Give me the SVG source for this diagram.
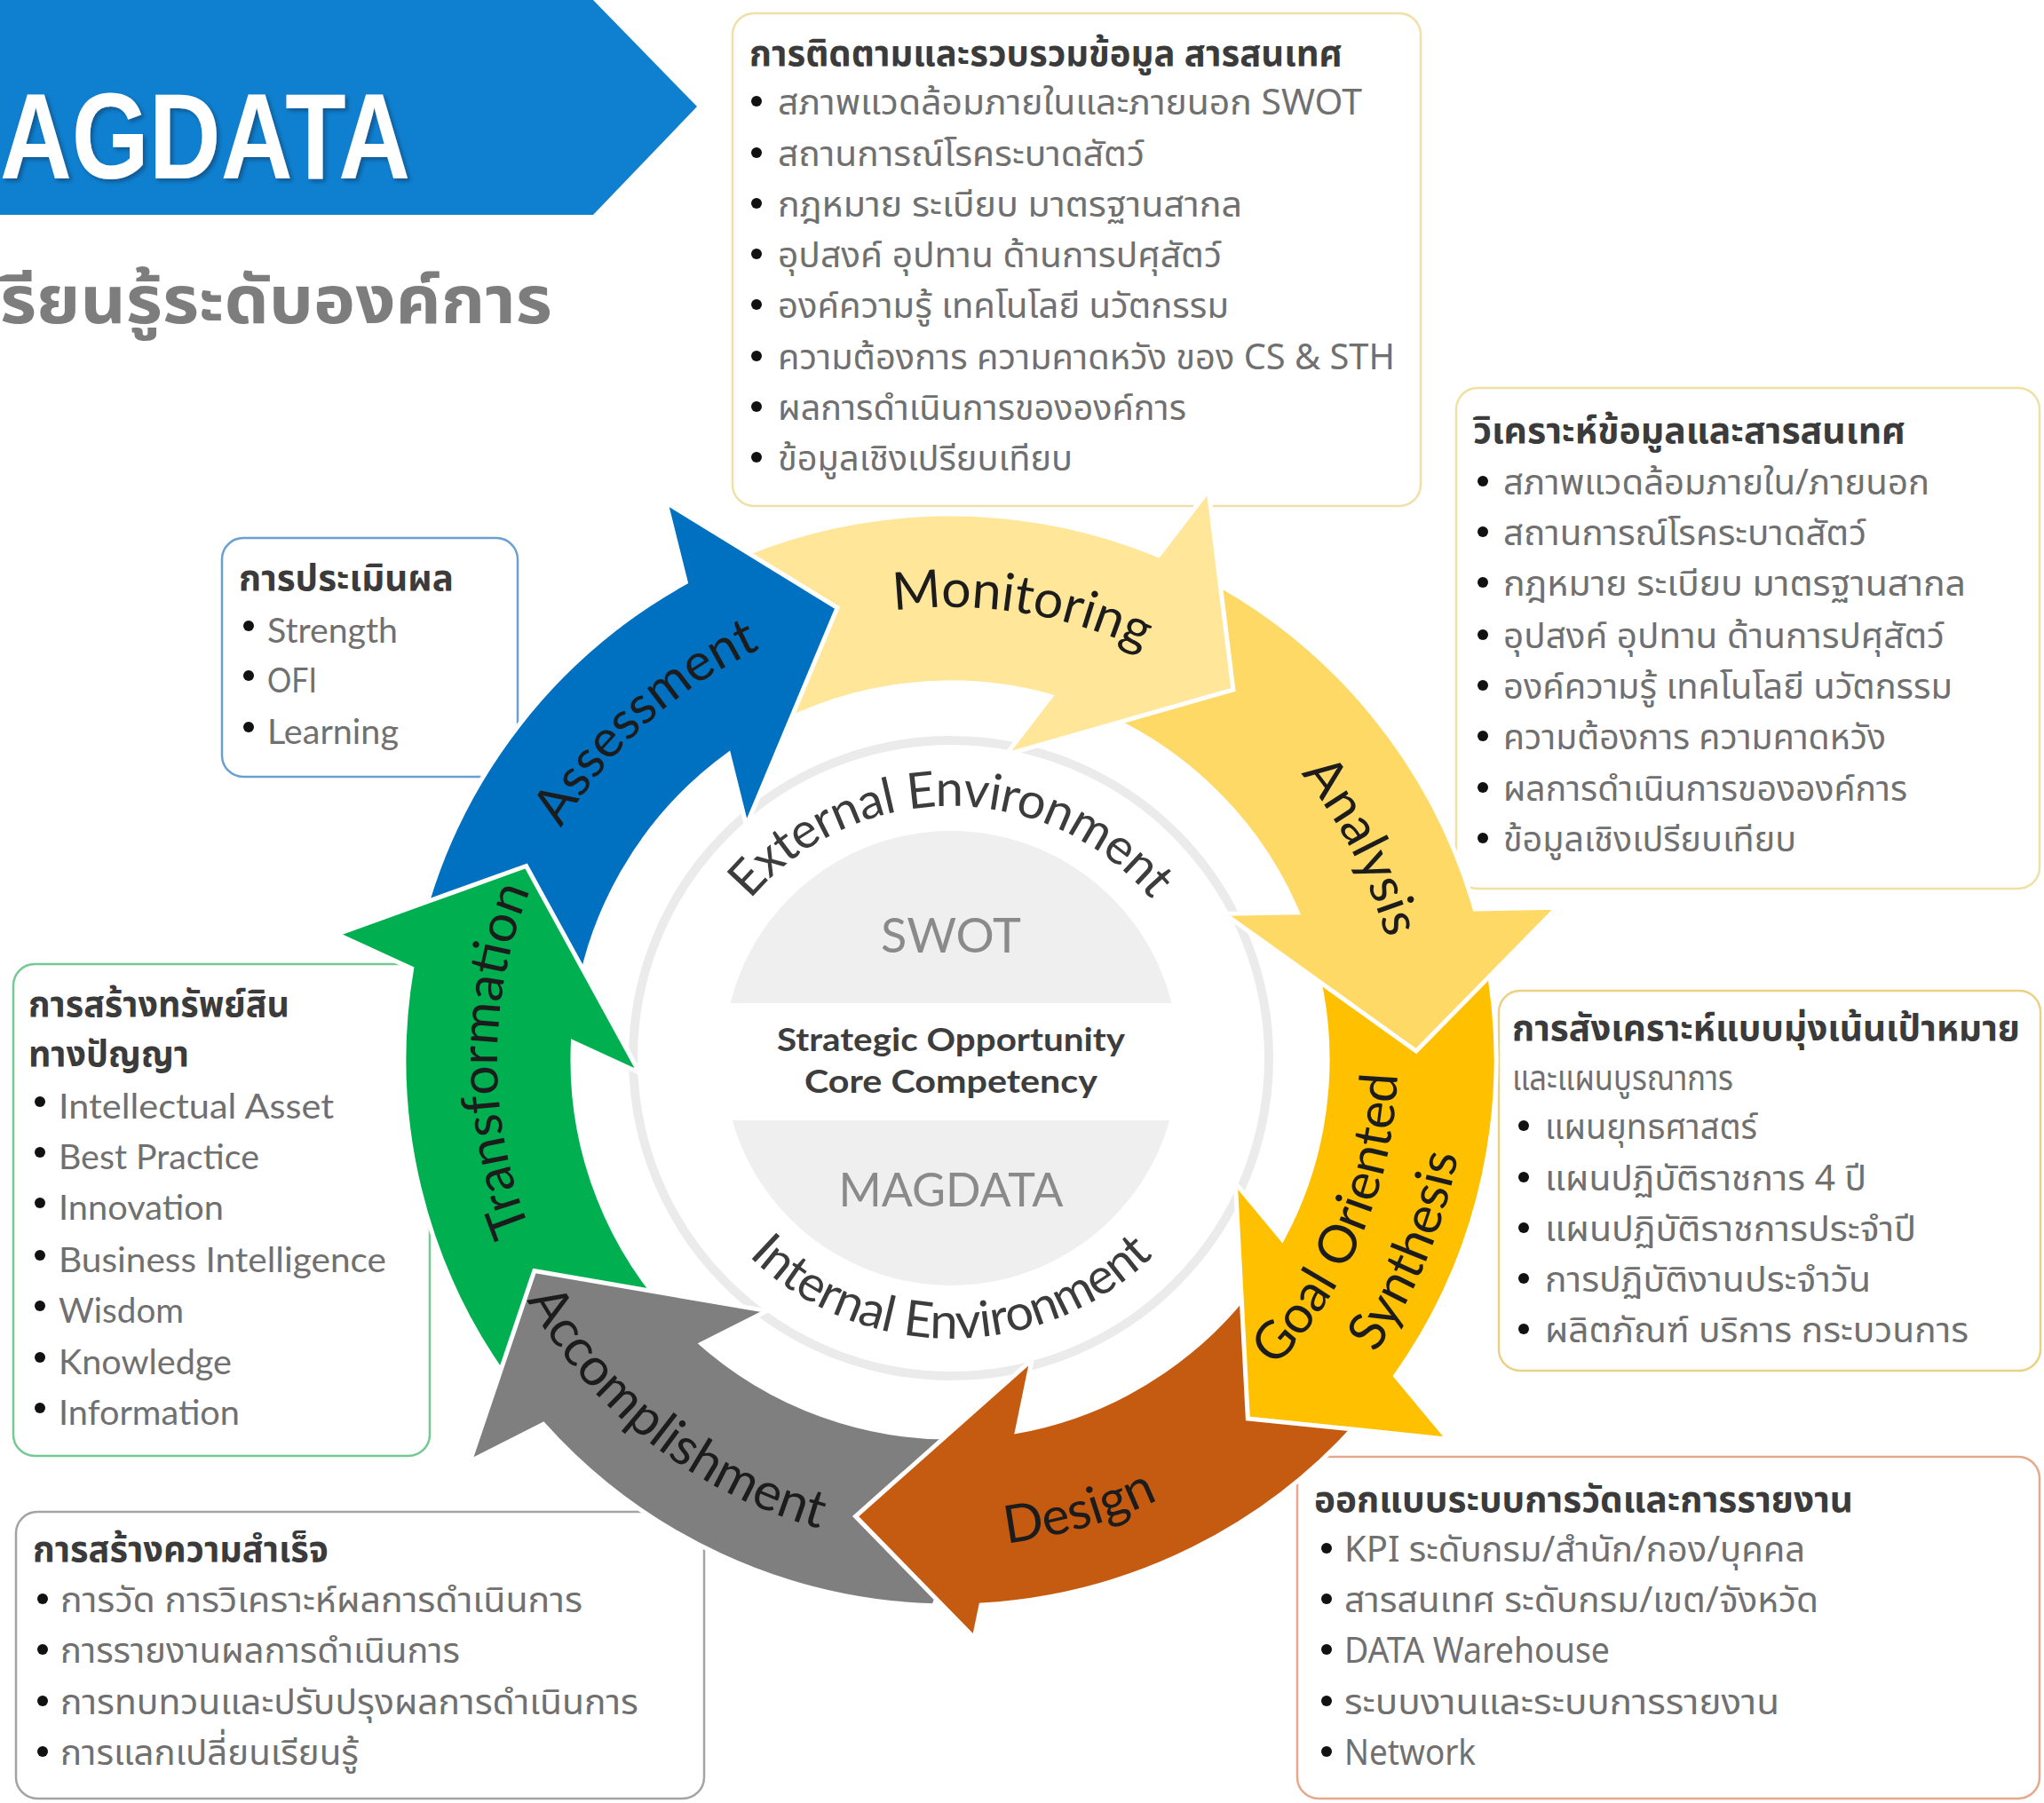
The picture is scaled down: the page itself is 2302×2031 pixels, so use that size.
<svg xmlns="http://www.w3.org/2000/svg" xmlns:xlink="http://www.w3.org/1999/xlink" width="2302" height="2031" viewBox="0 0 2302 2031">
<defs>
<style>
.th{font-family:'Noto Sans Thai','Noto Sans Thai UI','Leelawadee UI',Tahoma,Loma,Garuda,'Noto Sans',sans-serif;font-size:40px}
.la{font-family:Lato,'Noto Sans',sans-serif;font-size:39px}
.tt{font-weight:bold;fill:#3b3b3b}
.bd{fill:#707070}
.dot{fill:#111}
.box{fill:#fff;stroke-width:2.5}
.arr{stroke:#fff;stroke-width:5;stroke-linejoin:miter}
.lbl{font-family:Lato,'Open Sans',sans-serif;font-size:59px;fill:#1c1c1c}
.env{font-family:Lato,'Open Sans',sans-serif;font-size:56px;fill:#3c3c3c}
.ctr{font-family:Lato,'Open Sans',sans-serif;text-anchor:middle}
</style>
<path id="arrow" d="M -540.0 -294.4 A 615 615 0 0 1 -158.7 -594.2 L -158.7 -686.9 L 0 -525 L -158.7 -311.9 L -158.7 -394.3 A 425 425 0 0 0 -400.4 -142.6 Z"/>
<path id="arrowD" d="M -540.0 -294.4 A 615 615 0 0 1 -158.7 -594.2 L -158.7 -632.0 L 0 -525 L -158.7 -311.9 L -158.7 -394.3 A 425 425 0 0 0 -400.4 -142.6 Z"/>
<path id="cw510" d="M -441.7 -255 A 510 510 0 0 1 441.7 -255"/>
<path id="ccw548" d="M -474.6 274 A 548 548 0 0 0 474.6 274"/>
<path id="ccw504" d="M -436.5 252 A 504 504 0 0 0 436.5 252"/>
<path id="ccw582" d="M -504.0 291 A 582 582 0 0 0 504.0 291"/>
<path id="extArc" d="M 776 1203 A 295 295 0 0 1 1366 1203"/>
<path id="intArc" d="M 746 1183 A 325 325 0 0 0 1396 1183"/>
<clipPath id="clipA"><rect x="700" y="540" width="300" height="405"/></clipPath>
<filter id="sh" x="-10%" y="-10%" width="130%" height="140%"><feDropShadow dx="3" dy="3" stdDeviation="2" flood-color="#083a63" flood-opacity="0.6"/></filter>
</defs>
<rect width="2302" height="2031" fill="#fff"/>

<g id="header">
<polygon points="0,0 668,0 785,120 668,242 0,242" fill="#0f7fcf"/>
<text x="0" y="201" font-family="'Liberation Sans',Arial,sans-serif" font-weight="bold" font-size="137" fill="#fff" textLength="462" lengthAdjust="spacingAndGlyphs" filter="url(#sh)">AGDATA</text>
<text x="0" y="364" class="th" style="font-size:74px" font-weight="bold" fill="#7d7d7d" textLength="622" lengthAdjust="spacingAndGlyphs">รียนรู้ระดับองค์การ</text>
</g>

<g id="box-monitoring">
<rect class="box" x="825" y="15" width="775" height="555" rx="24" stroke="#f0dfa6"/>
<text class="th tt" x="844" y="74" textLength="668" lengthAdjust="spacingAndGlyphs">การติดตามและรวบรวมข้อมูล สารสนเทศ</text>
<circle class="dot" cx="852" cy="114" r="6"/><text class="th bd" x="876" y="129" textLength="658" lengthAdjust="spacingAndGlyphs">สภาพแวดล้อมภายในและภายนอก SWOT</text>
<circle class="dot" cx="852" cy="172" r="6"/><text class="th bd" x="876" y="187" textLength="413" lengthAdjust="spacingAndGlyphs">สถานการณ์โรคระบาดสัตว์</text>
<circle class="dot" cx="852" cy="229" r="6"/><text class="th bd" x="876" y="244" textLength="523" lengthAdjust="spacingAndGlyphs">กฎหมาย ระเบียบ มาตรฐานสากล</text>
<circle class="dot" cx="852" cy="286" r="6"/><text class="th bd" x="876" y="301" textLength="500" lengthAdjust="spacingAndGlyphs">อุปสงค์ อุปทาน ด้านการปศุสัตว์</text>
<circle class="dot" cx="852" cy="343" r="6"/><text class="th bd" x="876" y="358" textLength="508" lengthAdjust="spacingAndGlyphs">องค์ความรู้ เทคโนโลยี นวัตกรรม</text>
<circle class="dot" cx="852" cy="401" r="6"/><text class="th bd" x="876" y="416" textLength="695" lengthAdjust="spacingAndGlyphs">ความต้องการ ความคาดหวัง ของ CS &amp; STH</text>
<circle class="dot" cx="852" cy="458" r="6"/><text class="th bd" x="876" y="473" textLength="460" lengthAdjust="spacingAndGlyphs">ผลการดำเนินการขององค์การ</text>
<circle class="dot" cx="852" cy="515" r="6"/><text class="th bd" x="876" y="530" textLength="332" lengthAdjust="spacingAndGlyphs">ข้อมูลเชิงเปรียบเทียบ</text>
</g>

<g id="box-analysis">
<rect class="box" x="1640" y="437" width="657" height="564" rx="24" stroke="#f0e0a2"/>
<text class="th tt" x="1659" y="499" textLength="487" lengthAdjust="spacingAndGlyphs">วิเคราะห์ข้อมูลและสารสนเทศ</text>
<circle class="dot" cx="1670" cy="542" r="6"/><text class="th bd" x="1693" y="557" textLength="480" lengthAdjust="spacingAndGlyphs">สภาพแวดล้อมภายใน/ภายนอก</text>
<circle class="dot" cx="1670" cy="599" r="6"/><text class="th bd" x="1693" y="614" textLength="409" lengthAdjust="spacingAndGlyphs">สถานการณ์โรคระบาดสัตว์</text>
<circle class="dot" cx="1670" cy="656" r="6"/><text class="th bd" x="1693" y="671" textLength="521" lengthAdjust="spacingAndGlyphs">กฎหมาย ระเบียบ มาตรฐานสากล</text>
<circle class="dot" cx="1670" cy="715" r="6"/><text class="th bd" x="1693" y="730" textLength="497" lengthAdjust="spacingAndGlyphs">อุปสงค์ อุปทาน ด้านการปศุสัตว์</text>
<circle class="dot" cx="1670" cy="772" r="6"/><text class="th bd" x="1693" y="787" textLength="506" lengthAdjust="spacingAndGlyphs">องค์ความรู้ เทคโนโลยี นวัตกรรม</text>
<circle class="dot" cx="1670" cy="829" r="6"/><text class="th bd" x="1693" y="844" textLength="431" lengthAdjust="spacingAndGlyphs">ความต้องการ ความคาดหวัง</text>
<circle class="dot" cx="1670" cy="887" r="6"/><text class="th bd" x="1693" y="902" textLength="455" lengthAdjust="spacingAndGlyphs">ผลการดำเนินการขององค์การ</text>
<circle class="dot" cx="1670" cy="944" r="6"/><text class="th bd" x="1693" y="959" textLength="330" lengthAdjust="spacingAndGlyphs">ข้อมูลเชิงเปรียบเทียบ</text>
</g>

<g id="box-goal">
<rect class="box" x="1688" y="1116" width="610" height="428" rx="24" stroke="#ebd184"/>
<text class="th tt" x="1703" y="1172" textLength="572" lengthAdjust="spacingAndGlyphs">การสังเคราะห์แบบมุ่งเน้นเป้าหมาย</text>
<text class="th bd" x="1703" y="1228" textLength="249" lengthAdjust="spacingAndGlyphs">และแผนบูรณาการ</text>
<circle class="dot" cx="1716" cy="1268" r="6"/><text class="th bd" x="1740" y="1283" textLength="239" lengthAdjust="spacingAndGlyphs">แผนยุทธศาสตร์</text>
<circle class="dot" cx="1716" cy="1326" r="6"/><text class="th bd" x="1740" y="1341" textLength="362" lengthAdjust="spacingAndGlyphs">แผนปฏิบัติราชการ 4 ปี</text>
<circle class="dot" cx="1716" cy="1383" r="6"/><text class="th bd" x="1740" y="1398" textLength="418" lengthAdjust="spacingAndGlyphs">แผนปฏิบัติราชการประจำปี</text>
<circle class="dot" cx="1716" cy="1440" r="6"/><text class="th bd" x="1740" y="1455" textLength="367" lengthAdjust="spacingAndGlyphs">การปฏิบัติงานประจำวัน</text>
<circle class="dot" cx="1716" cy="1497" r="6"/><text class="th bd" x="1740" y="1512" textLength="477" lengthAdjust="spacingAndGlyphs">ผลิตภัณฑ์ บริการ กระบวนการ</text>
</g>

<g id="box-design">
<rect class="box" x="1461" y="1641" width="836" height="385" rx="24" stroke="#e5a88c"/>
<text class="th tt" x="1480" y="1703" textLength="607" lengthAdjust="spacingAndGlyphs">ออกแบบระบบการวัดและการรายงาน</text>
<circle class="dot" cx="1494" cy="1744" r="6"/><text class="th bd" x="1514" y="1759" textLength="519" lengthAdjust="spacingAndGlyphs">KPI ระดับกรม/สำนัก/กอง/บุคคล</text>
<circle class="dot" cx="1494" cy="1801" r="6"/><text class="th bd" x="1514" y="1816" textLength="534" lengthAdjust="spacingAndGlyphs">สารสนเทศ ระดับกรม/เขต/จังหวัด</text>
<circle class="dot" cx="1494" cy="1858" r="6"/><text class="th bd" x="1514" y="1873" textLength="299" lengthAdjust="spacingAndGlyphs">DATA Warehouse</text>
<circle class="dot" cx="1494" cy="1916" r="6"/><text class="th bd" x="1514" y="1931" textLength="490" lengthAdjust="spacingAndGlyphs">ระบบงานและระบบการรายงาน</text>
<circle class="dot" cx="1494" cy="1973" r="6"/><text class="th bd" x="1514" y="1988" textLength="148" lengthAdjust="spacingAndGlyphs">Network</text>
</g>

<g id="box-accomplishment">
<rect class="box" x="18" y="1703" width="775" height="323" rx="24" stroke="#a3a3a3"/>
<text class="th tt" x="37" y="1759" textLength="333" lengthAdjust="spacingAndGlyphs">การสร้างความสำเร็จ</text>
<circle class="dot" cx="48" cy="1801" r="6"/><text class="th bd" x="68" y="1816" textLength="588" lengthAdjust="spacingAndGlyphs">การวัด การวิเคราะห์ผลการดำเนินการ</text>
<circle class="dot" cx="48" cy="1858" r="6"/><text class="th bd" x="68" y="1873" textLength="450" lengthAdjust="spacingAndGlyphs">การรายงานผลการดำเนินการ</text>
<circle class="dot" cx="48" cy="1916" r="6"/><text class="th bd" x="68" y="1931" textLength="651" lengthAdjust="spacingAndGlyphs">การทบทวนและปรับปรุงผลการดำเนินการ</text>
<circle class="dot" cx="48" cy="1973" r="6"/><text class="th bd" x="68" y="1988" textLength="336" lengthAdjust="spacingAndGlyphs">การแลกเปลี่ยนเรียนรู้</text>
</g>

<g id="box-transformation">
<rect class="box" x="15" y="1086" width="469" height="554" rx="24" stroke="#74c893"/>
<text class="th tt" x="32" y="1145" textLength="294" lengthAdjust="spacingAndGlyphs">การสร้างทรัพย์สิน</text>
<text class="th tt" x="32" y="1201" textLength="181" lengthAdjust="spacingAndGlyphs">ทางปัญญา</text>
<circle class="dot" cx="45" cy="1241" r="6"/><text class="la bd" x="66" y="1260" textLength="310" lengthAdjust="spacingAndGlyphs">Intellectual Asset</text>
<circle class="dot" cx="45" cy="1298" r="6"/><text class="la bd" x="66" y="1317" textLength="226" lengthAdjust="spacingAndGlyphs">Best Practice</text>
<circle class="dot" cx="45" cy="1355" r="6"/><text class="la bd" x="66" y="1374" textLength="186" lengthAdjust="spacingAndGlyphs">Innovation</text>
<circle class="dot" cx="45" cy="1414" r="6"/><text class="la bd" x="66" y="1433" textLength="369" lengthAdjust="spacingAndGlyphs">Business Intelligence</text>
<circle class="dot" cx="45" cy="1471" r="6"/><text class="la bd" x="66" y="1490" textLength="141" lengthAdjust="spacingAndGlyphs">Wisdom</text>
<circle class="dot" cx="45" cy="1529" r="6"/><text class="la bd" x="66" y="1548" textLength="195" lengthAdjust="spacingAndGlyphs">Knowledge</text>
<circle class="dot" cx="45" cy="1586" r="6"/><text class="la bd" x="66" y="1605" textLength="204" lengthAdjust="spacingAndGlyphs">Information</text>
</g>

<g id="box-assessment">
<rect class="box" x="250" y="606" width="333" height="269" rx="24" stroke="#6a9fd2"/>
<text class="th tt" x="269" y="665" textLength="242" lengthAdjust="spacingAndGlyphs">การประเมินผล</text>
<circle class="dot" cx="280" cy="705" r="6"/><text class="la bd" x="301" y="724" textLength="147" lengthAdjust="spacingAndGlyphs">Strength</text>
<circle class="dot" cx="280" cy="761" r="6"/><text class="la bd" x="301" y="780" textLength="56" lengthAdjust="spacingAndGlyphs">OFI</text>
<circle class="dot" cx="280" cy="819" r="6"/><text class="la bd" x="301" y="838" textLength="148" lengthAdjust="spacingAndGlyphs">Learning</text>
</g>

<g id="center">
<circle cx="1071" cy="1192" r="358" fill="#fff" stroke="#ebebeb" stroke-width="10"/>
<circle cx="1071" cy="1192" r="256" fill="#efefef"/>
<rect x="800" y="1130" width="545" height="132" fill="#fff"/>
<text class="ctr" x="1071" y="1073" font-size="54" fill="#8a8a8a">SWOT</text>
<text class="ctr" x="1071" y="1184" font-size="37" font-weight="bold" fill="#3d3d3d" textLength="392" lengthAdjust="spacingAndGlyphs">Strategic Opportunity</text>
<text class="ctr" x="1071" y="1231" font-size="37" font-weight="bold" fill="#3d3d3d" textLength="330" lengthAdjust="spacingAndGlyphs">Core Competency</text>
<text class="ctr" x="1071" y="1359" font-size="52" fill="#8a8a8a">MAGDATA</text>
<text class="env"><textPath xlink:href="#extArc" href="#extArc" startOffset="50%" text-anchor="middle" textLength="515">External Environment</textPath></text>
<text class="env"><textPath xlink:href="#intArc" href="#intArc" startOffset="50%" text-anchor="middle" textLength="505">Internal Environment</textPath></text>
</g>

<g id="connectors">
<use id="arrow-assessment" href="#arrow" xlink:href="#arrow" class="arr" fill="#0070c0" transform="translate(1070 1194) rotate(346)"/>
<use id="arrow-transformation" href="#arrow" xlink:href="#arrow" class="arr" fill="#00b050" transform="translate(1070 1194) rotate(294.6)"/>
<use id="arrow-accomplishment" href="#arrow" xlink:href="#arrow" class="arr" fill="#7f7f7f" transform="translate(1070 1194) rotate(243.1)"/>
<use id="arrow-design" href="#arrowD" xlink:href="#arrowD" class="arr" fill="#c55a11" transform="translate(1070 1194) rotate(191.7)"/>
<use id="arrow-goal" href="#arrow" xlink:href="#arrow" class="arr" fill="#ffc000" transform="translate(1070 1194) rotate(140.3)"/>
<use id="arrow-analysis" href="#arrow" xlink:href="#arrow" class="arr" fill="#ffd966" transform="translate(1070 1194) rotate(88.9)"/>
<use id="arrow-monitoring" href="#arrow" xlink:href="#arrow" class="arr" fill="#ffe699" transform="translate(1070 1194) rotate(37.4)"/>
<g clip-path="url(#clipA)"><use href="#arrow" xlink:href="#arrow" class="arr" fill="#0070c0" transform="translate(1070 1194) rotate(346)"/></g>
</g>

<g id="labels">
<text class="lbl" transform="translate(1070 1194) rotate(9)"><textPath href="#cw510" xlink:href="#cw510" startOffset="50%" text-anchor="middle">Monitoring</textPath></text>
<text class="lbl" transform="translate(1070 1194) rotate(62.6)"><textPath href="#cw510" xlink:href="#cw510" startOffset="50%" text-anchor="middle">Analysis</textPath></text>
<text class="lbl" transform="translate(1070 1194) rotate(-67.4)"><textPath href="#ccw504" xlink:href="#ccw504" startOffset="50%" text-anchor="middle">Goal Oriented</textPath></text>
<text class="lbl" transform="translate(1070 1194) rotate(-67.4)"><textPath href="#ccw582" xlink:href="#ccw582" startOffset="50%" text-anchor="middle">Synthesis</textPath></text>
<text class="lbl" transform="translate(1070 1194) rotate(-16)"><textPath href="#ccw548" xlink:href="#ccw548" startOffset="50%" text-anchor="middle">Design</textPath></text>
<text class="lbl" transform="translate(1070 1194) rotate(38)"><textPath href="#ccw548" xlink:href="#ccw548" startOffset="50%" text-anchor="middle">Accomplishment</textPath></text>
<text class="lbl" transform="translate(1070 1194) rotate(-90)"><textPath href="#cw510" xlink:href="#cw510" startOffset="50%" text-anchor="middle">Transformation</textPath></text>
<text class="lbl" transform="translate(1070 1194) rotate(-42)"><textPath href="#cw510" xlink:href="#cw510" startOffset="50%" text-anchor="middle">Assessment</textPath></text>
</g>
</svg>
